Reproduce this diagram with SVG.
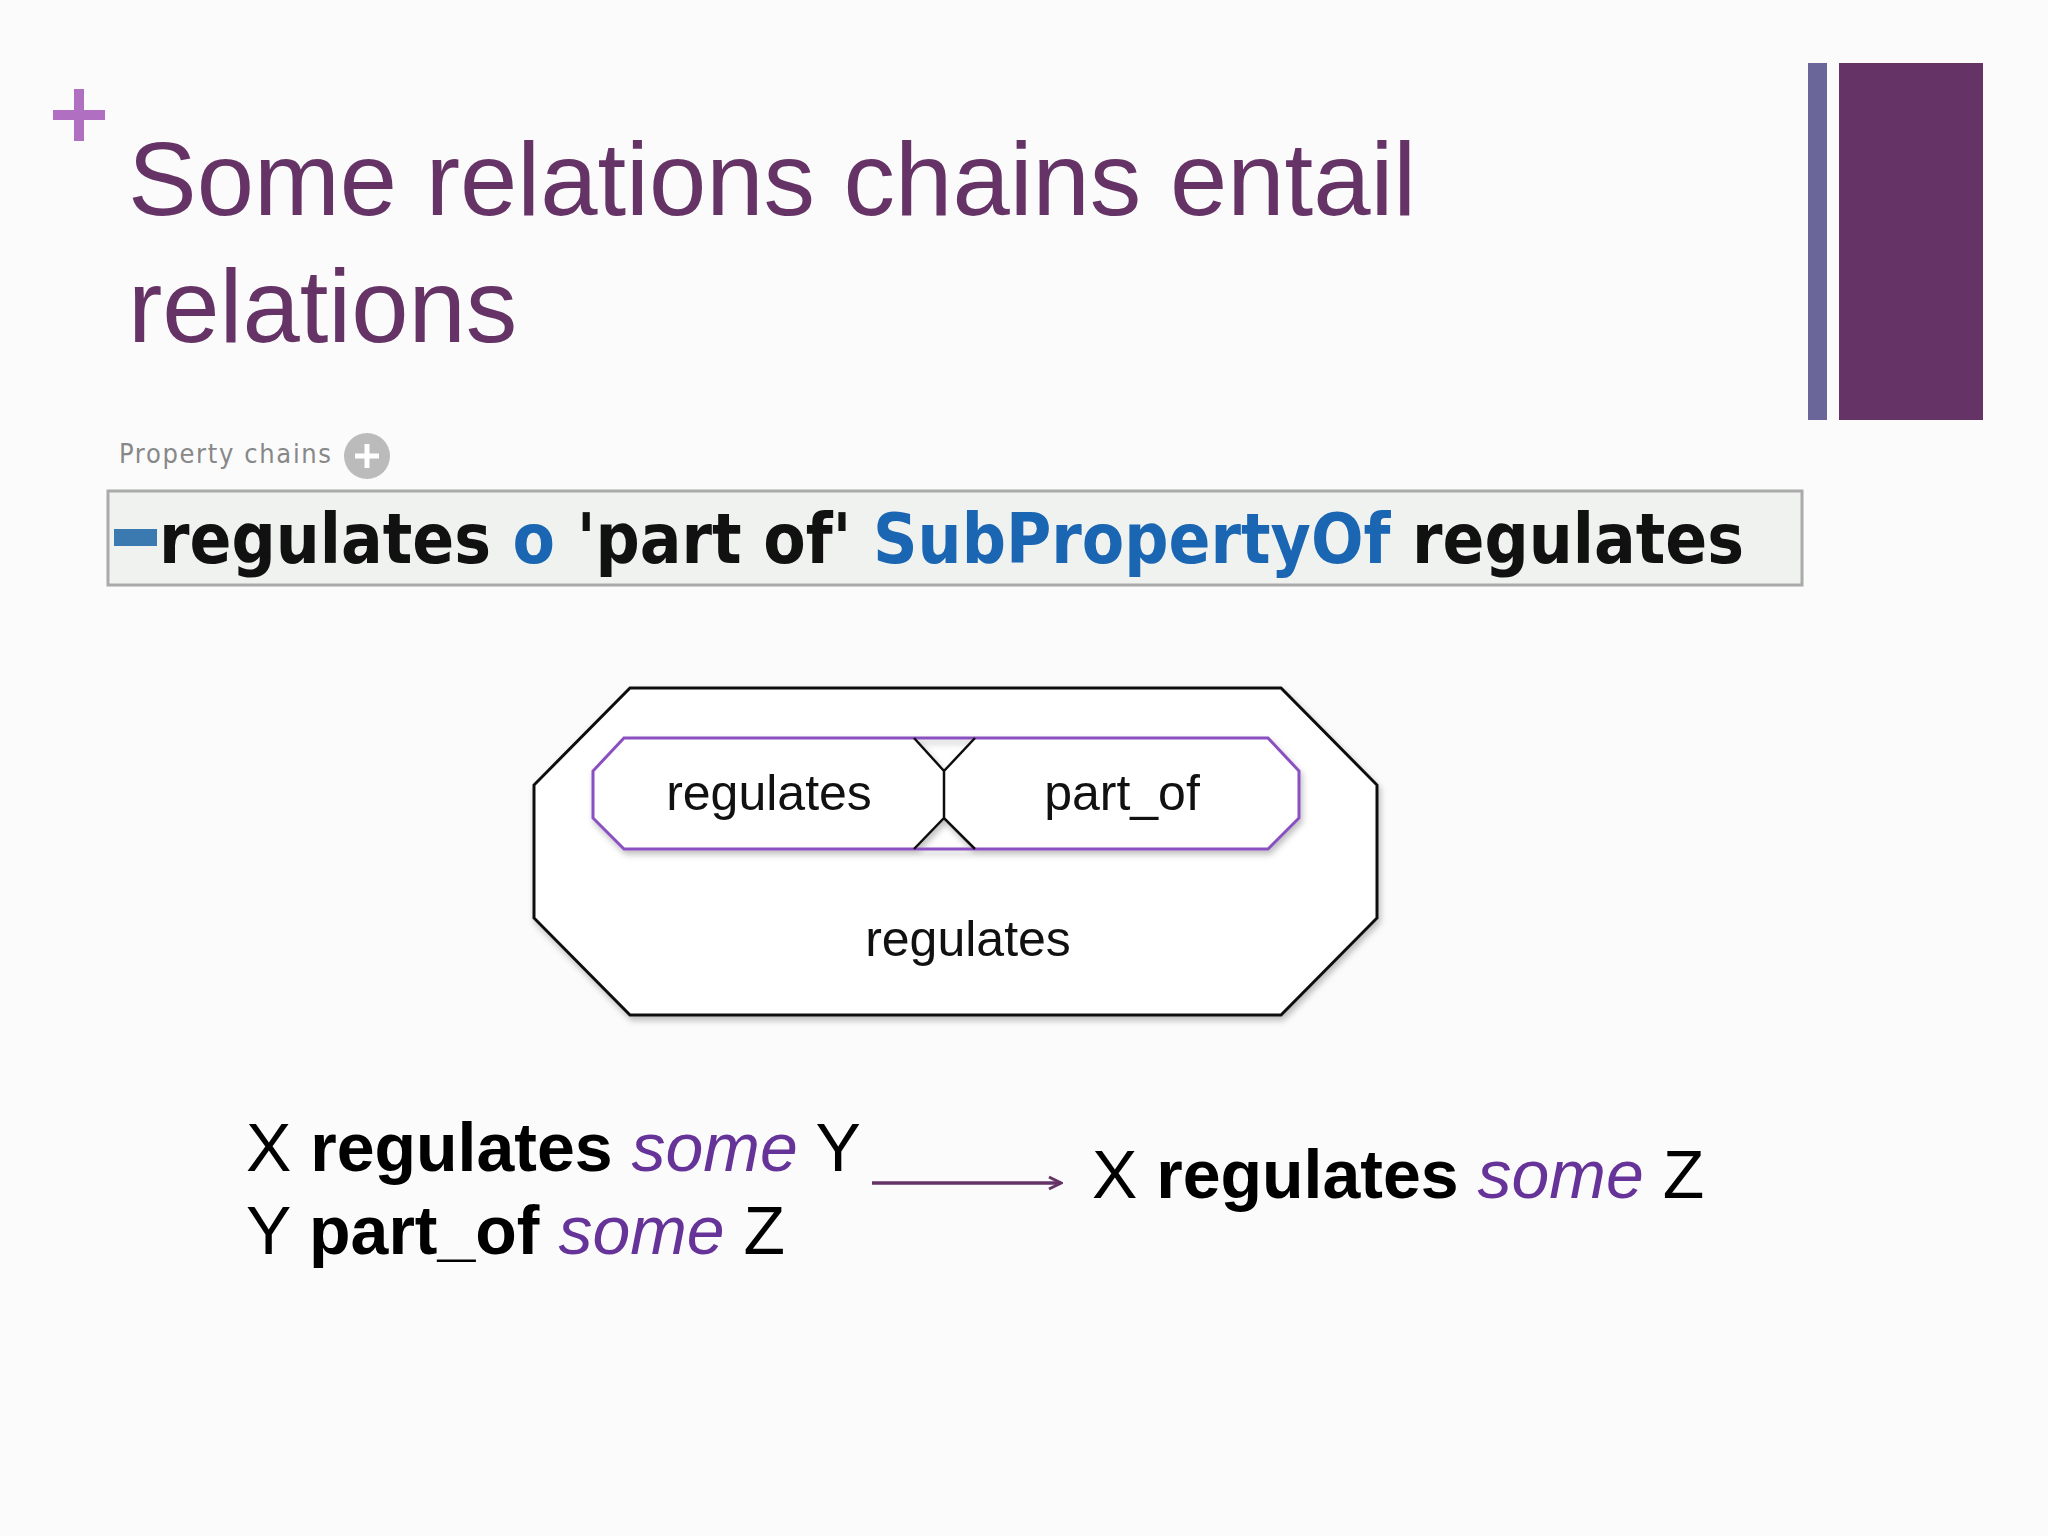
<svg xmlns="http://www.w3.org/2000/svg" width="2048" height="1536" viewBox="0 0 2048 1536">
<defs>
<style>
.s{font-family:"Liberation Sans",Arial,sans-serif}
.lbl{font-family:"Liberation Sans",Arial,sans-serif;font-size:50px;fill:#111;text-anchor:middle}
.big{font-family:"Liberation Sans",Arial,sans-serif;font-size:68px;fill:#000}
.it{font-style:italic;fill:#663399}
</style>
<marker id="ah" markerWidth="16" markerHeight="16" refX="14" refY="8" orient="auto" markerUnits="userSpaceOnUse"><path d="M2,2 L14,8 L2,14" fill="none" stroke="#663366" stroke-width="3"/></marker>
<filter id="sh" x="-10%" y="-10%" width="120%" height="130%"><feDropShadow dx="2" dy="4" stdDeviation="3" flood-color="#000" flood-opacity="0.25"/></filter>
</defs>
<rect width="2048" height="1536" fill="#fbfbfb"/>
<g id="plus"><rect x="53" y="110" width="52" height="10" fill="#b06fc0"/><rect x="74" y="89" width="10" height="52" fill="#b06fc0"/></g>
<g id="title" class="s" font-size="103" fill="#663366"><text x="128" y="215">Some relations chains entail</text><text x="128" y="342">relations</text></g>
<g id="bars"><rect x="1808" y="63" width="19" height="357" fill="#6a6699"/><rect x="1839" y="63" width="144" height="357" fill="#663366"/></g>
<g id="propchains"><text x="119" y="463" font-family="'DejaVu Sans Condensed','DejaVu Sans',sans-serif" font-size="27" fill="#888" textLength="212">Property chains</text><circle cx="367" cy="456" r="23" fill="#bbb"/><path d="M355,456 h24 M367,444 v24" stroke="#fff" stroke-width="5"/></g>
<g id="axiom"><rect x="108" y="491" width="1694" height="94" fill="#f0f2f0" stroke="#aaa" stroke-width="3"/><rect x="114" y="529" width="43" height="17" fill="#3a7ab0"/>
<text x="159" y="563" font-family="'DejaVu Sans',sans-serif" font-weight="bold" font-size="70" textLength="1585" lengthAdjust="spacingAndGlyphs" fill="#111">regulates <tspan fill="#1a66b3">o</tspan> 'part of' <tspan fill="#1a66b3">SubPropertyOf</tspan> regulates</text></g>
<g id="outer"><polygon points="630,688 1281,688 1377,785 1377,918 1281,1015 630,1015 534,918 534,785" fill="#fff" stroke="#111" stroke-width="3" filter="url(#sh)"/><text class="lbl" x="968" y="956">regulates</text></g>
<g id="chain" filter="url(#sh)">
<polygon points="624,738 914,738 944,771 944,818 914,849 624,849 593,818 593,771" fill="#fff" stroke="none"/>
<polygon points="975,738 1268,738 1299,771 1299,818 1268,849 975,849 944,818 944,771" fill="#fff" stroke="none"/>
<path d="M914,738 L624,738 L593,771 L593,818 L624,849 L914,849 M914,738 L975,738 L1268,738 L1299,771 L1299,818 L1268,849 L975,849 L914,849" fill="none" stroke="#8a4fc0" stroke-width="3"/>
<path d="M914,738 L944,771 L975,738 M944,771 L944,818 M914,849 L944,818 L975,849" fill="none" stroke="#111" stroke-width="2.5"/>
</g>
<g id="chainlabels"><text class="lbl" x="769" y="810">regulates</text><text class="lbl" x="1122" y="810">part_of</text></g>
<g id="rule">
<text class="big" x="246" y="1171">X <tspan font-weight="bold">regulates</tspan> <tspan class="it">some</tspan> Y</text>
<text class="big" x="246" y="1254">Y <tspan font-weight="bold">part_of</tspan> <tspan class="it">some</tspan> Z</text>
<text class="big" x="1092" y="1198">X <tspan font-weight="bold">regulates</tspan> <tspan class="it">some</tspan> Z</text>
</g>
<g id="connectors"><line x1="872" y1="1183" x2="1061" y2="1183" stroke="#663366" stroke-width="3.5" marker-end="url(#ah)"/></g>
</svg>
